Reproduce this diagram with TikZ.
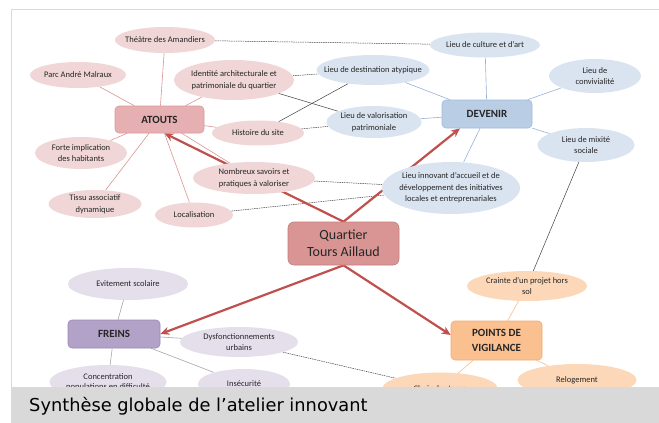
\documentclass[tikz,border=0pt]{standalone}
\usepackage{fontspec}
\setmainfont{Carlito}
\newfontfamily\capfont{DejaVu Sans}
\usetikzlibrary{shapes.geometric,arrows.meta}
\pgfdeclarelayer{paper}\pgfdeclarelayer{bg}\pgfdeclarelayer{fg}
\pgfsetlayers{paper,bg,main,fg}
\definecolor{pinkE}{HTML}{F0D6D6}
\definecolor{blueE}{HTML}{DAE4F1}
\definecolor{lavE}{HTML}{E5DFEC}
\definecolor{orE}{HTML}{FCD7B8}
\definecolor{pinkL}{HTML}{D99594}
\definecolor{blueL}{HTML}{95B3D7}
\definecolor{grayL}{HTML}{A6A6A6}
\definecolor{orL}{HTML}{F9BE8F}
\definecolor{arrowc}{HTML}{C0504D}
\definecolor{darkL}{HTML}{404040}
\definecolor{txtc}{HTML}{262626}
\definecolor{bandc}{HTML}{D9D9D9}
\definecolor{frame}{HTML}{DADADA}
\definecolor{atF}{HTML}{E6B0B2}
\definecolor{atD}{HTML}{D9999B}
\definecolor{qF}{HTML}{D99594}
\definecolor{qD}{HTML}{C77C7B}
\definecolor{devF}{HTML}{B9CDE5}
\definecolor{devD}{HTML}{A3BCDA}
\definecolor{frF}{HTML}{B3A2C7}
\definecolor{frD}{HTML}{9D88B6}
\definecolor{ptF}{HTML}{FAC090}
\definecolor{ptD}{HTML}{F3AC74}
\begin{document}
\begin{tikzpicture}[x=1pt,y=-1pt,
  bub/.style={ellipse, inner sep=0pt, draw=none},
  pk/.style={bub, fill=pinkE},
  bl/.style={bub, fill=blueE},
  lv/.style={bub, fill=lavE},
  og/.style={bub, fill=orE},
  wh/.style 2 args={minimum width=#1pt, minimum height=#2pt},
  every label/.style={align=center, text=txtc, font=\fontsize{8.5}{11.5}\selectfont, inner sep=0pt},
  hub/.style={rectangle, rounded corners=4pt, align=center, text=txtc, font=\bfseries\fontsize{11}{14}\selectfont, line width=0.6pt},
  bigarrow/.style={draw=arrowc, line width=2.2pt, -{Stealth[length=9pt,width=8pt]}},
  lp/.style={draw=pinkL, line width=0.6pt},
  lb/.style={draw=blueL, line width=0.6pt},
  lg/.style={draw=grayL, line width=0.6pt},
  lo/.style={draw=orL, line width=0.6pt},
  ld/.style={draw=darkL, line width=0.5pt},
  ldd/.style={draw=darkL, line width=0.5pt, dash pattern=on 1.5pt off 0.8pt},
]
\useasboundingbox (0,0) rectangle (659,423);
\begin{pgfonlayer}{paper}
\fill[white] (0,0) rectangle (659,423);
\draw[frame, line width=0.8pt] (11,423) -- (11,9) -- (659,9);
\end{pgfonlayer}

% hubs
\node[hub, fill=atF, draw=atD, wh={89}{27}] (at) at (159.5,119.5) {ATOUTS};
\node[hub, fill=devF, draw=devD, wh={90}{28}] (dev) at (487,114) {DEVENIR};
\node[hub, fill=qF, draw=qD, wh={111}{43}, font=\fontsize{14}{17}\selectfont, rounded corners=6pt] (q) at (343.5,243.5) {Quartier\\Tours Aillaud};
\node[hub, fill=frF, draw=frD, wh={92}{28}] (fr) at (114,334) {FREINS};
\node[hub, fill=ptF, draw=ptD, wh={91}{39}, font=\bfseries\fontsize{11}{15}\selectfont] (pt) at (496.5,340.5) {POINTS DE\\VIGILANCE};

% atouts bubbles
\node[pk, wh={100}{26}, label={center:Théâtre des Amandiers}] (th) at (165,40) {};
\node[pk, wh={96}{26}, label={center:Parc André Malraux}] (parc) at (78,75) {};
\node[pk, wh={120}{40}, label={center:{Identité architecturale et\\patrimoniale du quartier}}] (id) at (234,80) {};
\node[pk, wh={92}{25}, label={center:Histoire du site}] (hi) at (258,133) {};
\node[pk, wh={92}{32}, label={center:{Forte implication\\des habitants}}] (fo) at (81,153) {};
\node[pk, wh={122}{32}, label={center:{Nombreux savoirs et\\pratiques à valoriser}}] (nb) at (254,178) {};
\node[pk, wh={93}{28}, label={center:{Tissu associatif\\dynamique}}] (ti) at (95,204) {};
\node[pk, wh={78}{25}, label={center:Localisation}] (lo) at (194,215) {};

% devenir bubbles
\node[bl, wh={110}{25}, label={center:Lieu de culture et d’art}] (cu) at (485,45) {};
\node[bl, wh={113}{30}, label={center:Lieu de destination atypique}] (de) at (373,70) {};
\node[bl, wh={92}{34}, label={center:{Lieu de\\convivialité}}] (cv) at (595,76) {};
\node[bl, wh={95}{32}, label={center:{Lieu de valorisation\\patrimoniale}}] (va) at (374,122) {};
\node[bl, wh={97}{34}, label={center:{Lieu de mixité\\sociale}}] (mi) at (586,145) {};
\node[bl, wh={138}{52}, label={center:{Lieu innovant d’accueil et de\\développement des initiatives\\locales et entreprenariales}}] (in) at (451,188) {};

% freins bubbles
\node[lv, wh={120}{32}, label={center:Evitement scolaire}] (ev) at (128,284) {};
\node[lv, wh={118}{30}, label={center:{Dysfonctionnements\\urbains}}] (dy) at (239,342) {};
\node[lv, wh={117}{34}, label={[font=\fontsize{8.5}{10}\selectfont]center:{Concentration\\populations en difficulté}}] (co) at (108,382) {};
\node[lv, wh={92}{30}, label={center:Insécurité}] (ins) at (244,384) {};

% vigilance bubbles
\node[og, wh={120}{30}, label={center:{Crainte d’un projet hors\\sol}}] (cr) at (527,286) {};
\node[og, wh={119}{32}, label={center:Relogement}] (re) at (577,380) {};
\node[og, wh={115}{32}, label={center:Choix des tours}] (ch) at (440,388.5) {};

\begin{pgfonlayer}{bg}
  % group lines
  \foreach \n in {th,parc,id,hi,fo,ti,lo,nb} \draw[lp] (at) -- (\n);
  \foreach \n in {cu,de,cv,va,mi,in} \draw[lb] (dev) -- (\n);
  \foreach \n in {ev,dy,co,ins} \draw[lg] (fr) -- (\n);
  \foreach \n in {cr,re,ch} \draw[lo] (pt) -- (\n);
  % cross links
  \draw[ldd] (th) -- (cu);
  \draw[ldd] (id) -- (de);
  \draw[ld] (id) -- (va);
  \draw[ld] (hi) -- (de);
  \draw[ldd] (hi) -- (va);
  \draw[ldd] (nb) -- (in);
  \draw[ldd] (lo) -- (in);
  \draw[ld] (mi) -- (cr);
  \draw[ldd] (dy) -- (ch);
  % big arrows
  \draw[bigarrow] (q.north) -- ([xshift=5pt]at.south);
  \draw[bigarrow] (q.north) -- ([xshift=-27pt]dev.south);
  \draw[bigarrow] (q.south) -- (fr.east);
  \draw[bigarrow] (q.south) -- ([yshift=5.5pt]pt.west);
\end{pgfonlayer}

\begin{pgfonlayer}{fg}
  \fill[bandc] (11,387) rectangle (659,423);
  \node[anchor=west, inner sep=0pt, font=\capfont\fontsize{17.8}{20}\selectfont, text=black] (cap) at (29,406) {Synthèse globale de l’atelier innovant};
\end{pgfonlayer}
\end{tikzpicture}
\end{document}
